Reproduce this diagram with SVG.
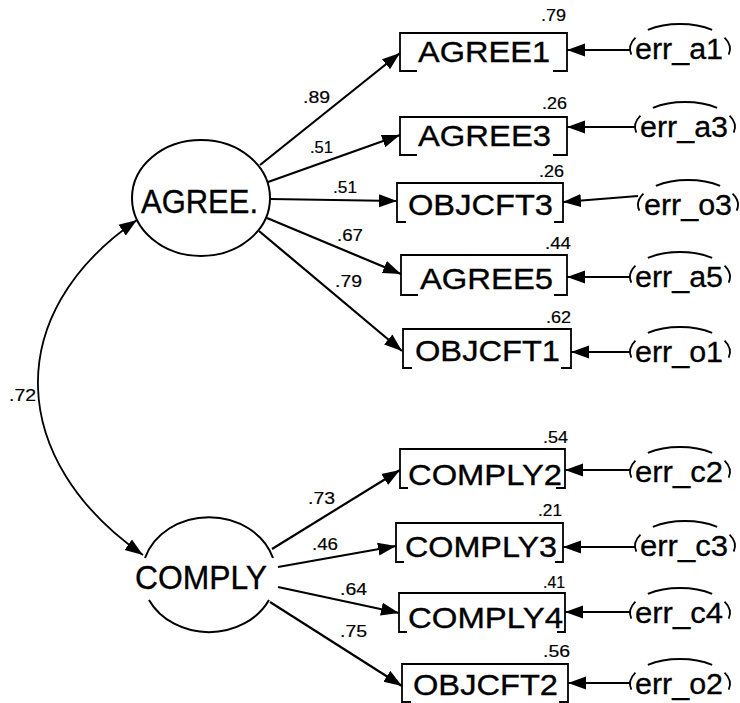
<svg xmlns="http://www.w3.org/2000/svg" xmlns:xlink="http://www.w3.org/1999/xlink" width="740" height="703" viewBox="0 0 740 703">
  <style>
    .ln { fill: none; stroke: #000; stroke-width: 2.2; }
    .thin { fill: none; stroke: #000; stroke-width: 1.8; }
    .box { fill: none; stroke: #000; stroke-width: 1.8; }
    .lat { fill: none; stroke: #000; stroke-width: 2; }
    text { font-family: "Liberation Sans", Arial, sans-serif; fill: #000; stroke: #000; }
    .obs { font-size: 30px; stroke-width: 0.35; }
    .latt { font-size: 33px; stroke-width: 0.35; }
    .err { font-size: 29px; stroke-width: 0.3; }
    .coef { font-size: 17px; stroke-width: 0.2; }
  </style>
  <defs>
    <marker id="ah" viewBox="0 0 18 14" refX="18" refY="7" markerWidth="18" markerHeight="14" markerUnits="userSpaceOnUse" orient="auto-start-reverse">
      <path d="M0,0.5 L18,7 L0,13.5 z" fill="#000"/>
    </marker>
    <!-- error term outline: top arc plus short side arcs of a 50x25 ellipse -->
    <path id="errShape" class="thin" d="M-32.14,-19.15 A50,25 0 0 1 32.14,-19.15 M-44.55,-11.35 A50,25 0 0 0 -48.7,5.63 M44.55,-11.35 A50,25 0 0 1 48.7,5.63"/>
  </defs>

  <!-- connectors -->
  <g id="connectors">
    <path class="thin" d="M137,220 C0,314 8,461 143,555" marker-start="url(#ah)" marker-end="url(#ah)"/>
    <!-- AGREE. loadings -->
    <line class="ln" x1="260" y1="165" x2="400" y2="53" marker-end="url(#ah)"/>
    <line class="ln" x1="268" y1="182" x2="400" y2="135" marker-end="url(#ah)"/>
    <line class="ln" x1="270" y1="199" x2="397" y2="201" marker-end="url(#ah)"/>
    <line class="ln" x1="267" y1="218" x2="401" y2="274" marker-end="url(#ah)"/>
    <line class="ln" x1="259" y1="231" x2="402" y2="351" marker-end="url(#ah)"/>
    <!-- COMPLY loadings -->
    <line class="ln" x1="272" y1="549" x2="400" y2="470" marker-end="url(#ah)"/>
    <line class="ln" x1="278" y1="567" x2="396" y2="546" marker-end="url(#ah)"/>
    <line class="ln" x1="278" y1="587" x2="399" y2="613" marker-end="url(#ah)"/>
    <line class="ln" x1="270" y1="602" x2="402" y2="686" marker-end="url(#ah)"/>
    <!-- error terms -->
    <line class="ln" x1="630" y1="50" x2="567" y2="50" marker-end="url(#ah)"/>
    <line class="ln" x1="635" y1="127" x2="567" y2="127" marker-end="url(#ah)"/>
    <line class="ln" x1="638" y1="196" x2="563" y2="202" marker-end="url(#ah)"/>
    <line class="ln" x1="630" y1="277" x2="567" y2="277" marker-end="url(#ah)"/>
    <line class="ln" x1="630" y1="352" x2="571" y2="352" marker-end="url(#ah)"/>
    <line class="ln" x1="630" y1="470" x2="565" y2="470" marker-end="url(#ah)"/>
    <line class="ln" x1="635" y1="547" x2="563" y2="547" marker-end="url(#ah)"/>
    <line class="ln" x1="630" y1="612" x2="565" y2="612" marker-end="url(#ah)"/>
    <line class="ln" x1="630" y1="683" x2="568" y2="683" marker-end="url(#ah)"/>
    <!-- coefficients -->
    <text class="coef" x="9" y="401" textLength="27" lengthAdjust="spacingAndGlyphs">.72</text>
    <text class="coef" x="303" y="103" textLength="27" lengthAdjust="spacingAndGlyphs">.89</text>
    <text class="coef" x="310" y="153" textLength="23" lengthAdjust="spacingAndGlyphs">.51</text>
    <text class="coef" x="333" y="193" textLength="24" lengthAdjust="spacingAndGlyphs">.51</text>
    <text class="coef" x="337" y="241" textLength="26" lengthAdjust="spacingAndGlyphs">.67</text>
    <text class="coef" x="335" y="287" textLength="27" lengthAdjust="spacingAndGlyphs">.79</text>
    <text class="coef" x="308" y="504" textLength="27" lengthAdjust="spacingAndGlyphs">.73</text>
    <text class="coef" x="312" y="550" textLength="26" lengthAdjust="spacingAndGlyphs">.46</text>
    <text class="coef" x="340" y="595" textLength="27" lengthAdjust="spacingAndGlyphs">.64</text>
    <text class="coef" x="340" y="637" textLength="27" lengthAdjust="spacingAndGlyphs">.75</text>
  </g>

  <!-- latent variables -->
  <g id="AGREE">
    <ellipse class="lat" cx="201" cy="198" rx="69" ry="58"/>
    <text class="latt" x="141" y="213" textLength="117" lengthAdjust="spacingAndGlyphs">AGREE.</text>
  </g>
  <g id="COMPLY">
    <path class="lat" d="M145,558 A67,58 0 0 1 273,558 M269,600 A67,58 0 0 1 149,600"/>
    <text class="latt" x="135" y="589" textLength="132" lengthAdjust="spacingAndGlyphs">COMPLY</text>
  </g>

  <!-- observed variables -->
  <g id="AGREE1">
    <path class="box" d="M417,71 H400 V33 H567 V71 H553"/>
    <text class="obs" x="418" y="62" textLength="132" lengthAdjust="spacingAndGlyphs">AGREE1</text>
    <text class="coef" x="541" y="21" textLength="25" lengthAdjust="spacingAndGlyphs">.79</text>
  </g>
  <g id="AGREE3">
    <path class="box" d="M417,155 H400 V117 H567 V155 H553"/>
    <text class="obs" x="418" y="146" textLength="133" lengthAdjust="spacingAndGlyphs">AGREE3</text>
    <text class="coef" x="542" y="109" textLength="25" lengthAdjust="spacingAndGlyphs">.26</text>
  </g>
  <g id="OBJCFT3">
    <path class="box" d="M406,222 H397 V183 H563 V222 H554"/>
    <text class="obs" x="408" y="215" textLength="145" lengthAdjust="spacingAndGlyphs">OBJCFT3</text>
    <text class="coef" x="539" y="177" textLength="25" lengthAdjust="spacingAndGlyphs">.26</text>
  </g>
  <g id="AGREE5">
    <path class="box" d="M418,295 H401 V255 H567 V295 H554"/>
    <text class="obs" x="420" y="289" textLength="133" lengthAdjust="spacingAndGlyphs">AGREE5</text>
    <text class="coef" x="545" y="249" textLength="26" lengthAdjust="spacingAndGlyphs">.44</text>
  </g>
  <g id="OBJCFT1">
    <path class="box" d="M412,368 H403 V329 H571 V368 H561"/>
    <text class="obs" x="415" y="361" textLength="145" lengthAdjust="spacingAndGlyphs">OBJCFT1</text>
    <text class="coef" x="546" y="323" textLength="25" lengthAdjust="spacingAndGlyphs">.62</text>
  </g>
  <g id="COMPLY2">
    <path class="box" d="M408,488 H400 V449 H565 V488 H556"/>
    <text class="obs" x="408" y="485" textLength="154" lengthAdjust="spacingAndGlyphs">COMPLY2</text>
    <text class="coef" x="543" y="443" textLength="25" lengthAdjust="spacingAndGlyphs">.54</text>
  </g>
  <g id="COMPLY3">
    <path class="box" d="M404,562 H396 V523 H563 V562 H555"/>
    <text class="obs" x="405" y="557" textLength="152" lengthAdjust="spacingAndGlyphs">COMPLY3</text>
    <text class="coef" x="538" y="516" textLength="24" lengthAdjust="spacingAndGlyphs">.21</text>
  </g>
  <g id="COMPLY4">
    <path class="box" d="M407,632 H399 V593 H565 V632 H557"/>
    <text class="obs" x="408" y="628" textLength="155" lengthAdjust="spacingAndGlyphs">COMPLY4</text>
    <text class="coef" x="543" y="588" textLength="22" lengthAdjust="spacingAndGlyphs">.41</text>
  </g>
  <g id="OBJCFT2">
    <path class="box" d="M411,702 H402 V664 H568 V702 H559"/>
    <text class="obs" x="413" y="695" textLength="145" lengthAdjust="spacingAndGlyphs">OBJCFT2</text>
    <text class="coef" x="543" y="657" textLength="27" lengthAdjust="spacingAndGlyphs">.56</text>
  </g>

  <!-- error terms -->
  <g id="err_a1"><use xlink:href="#errShape" x="680" y="49"/><text class="err" x="635" y="59" textLength="88" lengthAdjust="spacingAndGlyphs">err_a1</text></g>
  <g id="err_a3"><use xlink:href="#errShape" x="685" y="127"/><text class="err" x="640" y="137" textLength="88" lengthAdjust="spacingAndGlyphs">err_a3</text></g>
  <g id="err_o3"><use xlink:href="#errShape" x="688" y="205"/><text class="err" x="644" y="215" textLength="88" lengthAdjust="spacingAndGlyphs">err_o3</text></g>
  <g id="err_a5"><use xlink:href="#errShape" x="680" y="277"/><text class="err" x="635" y="287" textLength="88" lengthAdjust="spacingAndGlyphs">err_a5</text></g>
  <g id="err_o1"><use xlink:href="#errShape" x="680" y="352"/><text class="err" x="635" y="362" textLength="88" lengthAdjust="spacingAndGlyphs">err_o1</text></g>
  <g id="err_c2"><use xlink:href="#errShape" x="680" y="472"/><text class="err" x="635" y="482" textLength="88" lengthAdjust="spacingAndGlyphs">err_c2</text></g>
  <g id="err_c3"><use xlink:href="#errShape" x="685" y="546"/><text class="err" x="640" y="556" textLength="88" lengthAdjust="spacingAndGlyphs">err_c3</text></g>
  <g id="err_c4"><use xlink:href="#errShape" x="680" y="613"/><text class="err" x="635" y="623" textLength="88" lengthAdjust="spacingAndGlyphs">err_c4</text></g>
  <g id="err_o2"><use xlink:href="#errShape" x="680" y="684"/><text class="err" x="635" y="694" textLength="88" lengthAdjust="spacingAndGlyphs">err_o2</text></g>
</svg>
